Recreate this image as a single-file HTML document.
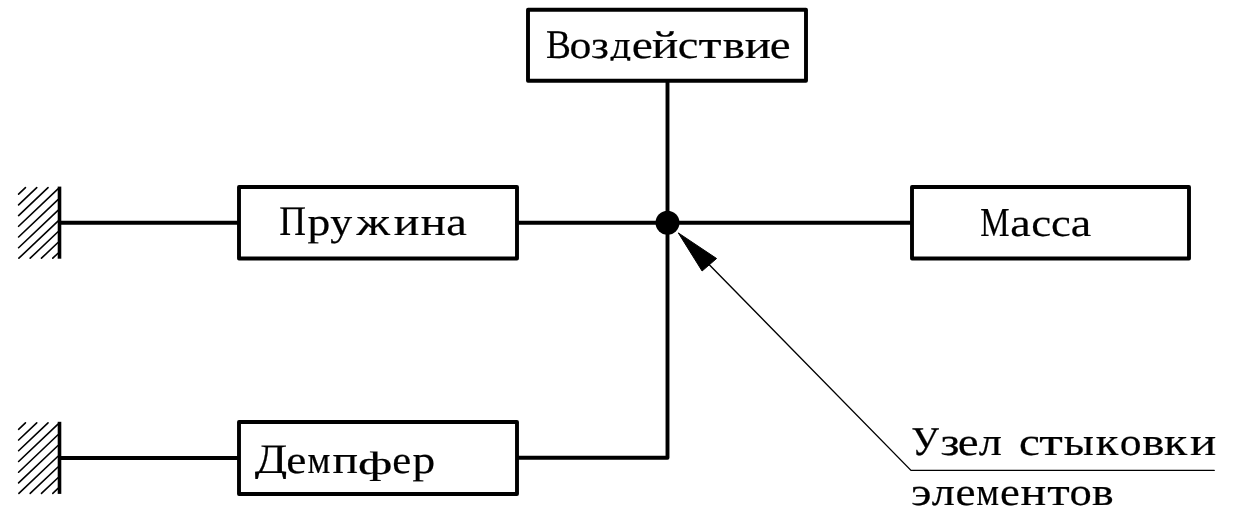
<!DOCTYPE html>
<html><head><meta charset="utf-8">
<style>
html,body{margin:0;padding:0;background:#fff;width:1252px;height:519px;overflow:hidden}
svg{display:block;will-change:transform}
text{font-family:"Liberation Serif",serif;fill:#000;text-rendering:geometricPrecision;stroke:#000;stroke-width:0.2px}
</style></head>
<body>
<svg width="1252" height="519" viewBox="0 0 1252 519">
<defs>
<g id="hatch">
<path d="M18.60,194.10 L25.44,187.60 M18.60,204.83 L36.74,187.60 M18.60,215.56 L48.03,187.60 M18.60,226.29 L58.00,188.86 M18.60,237.02 L58.00,199.59 M18.60,247.75 L58.00,210.32 M18.89,258.20 L58.00,221.05 M30.19,258.20 L58.00,231.78 M41.48,258.20 L58.00,242.51 M52.78,258.20 L58.00,253.24" stroke="#000" stroke-width="1.6" stroke-linecap="round" fill="none"/>
<line x1="59.5" y1="186.6" x2="59.5" y2="258.7" stroke="#000" stroke-width="3.6"/>
</g>
</defs>
<use href="#hatch"/>
<use href="#hatch" transform="translate(0,235.2)"/>
<g stroke="#000" stroke-width="3.9" fill="none" stroke-linejoin="round">
<rect x="528" y="9.8" width="278" height="71"/>
<rect x="239" y="187" width="278" height="71.5"/>
<rect x="912" y="187" width="277" height="71.5"/>
<rect x="239" y="422" width="278" height="72"/>
<path d="M59.5,222.8 H239 M517,222.8 H912 M667.5,80.8 V457.8 H517 M59.5,458 H239"/>
</g>
<circle cx="667.5" cy="222.8" r="12" fill="#000"/>
<path d="M678.3,232.9 L716.6,258.5 L702.1,271 Z" fill="#000" stroke="#000" stroke-width="1" stroke-linejoin="round"/>
<path d="M709.3,264.7 L911,470.4 H1214.2" stroke="#000" stroke-width="1.4" fill="none" stroke-linecap="round"/>
<defs><clipPath id="c1"><rect x="605.6" y="-2.1" width="29.7" height="62.9"/></clipPath><clipPath id="c2"><rect x="250.0" y="412.8" width="41.0" height="66.1"/></clipPath></defs>
<text transform="matrix(0.8995 0 0 0.9826 546.02 57.90)" font-size="41.5">В</text>
<text transform="matrix(1.1253 0 0 1.0000 569.53 57.90)" font-size="39.0">о</text>
<text transform="matrix(1.1627 0 0 1.0000 591.12 57.90)" font-size="39.0">з</text>
<g clip-path="url(#c1)"><text transform="matrix(1.0387 0 0 1.0000 610.60 57.90)" font-size="39.0">д</text></g>
<text transform="matrix(1.2193 0 0 1.0000 631.64 57.90)" font-size="39.0">е</text>
<text transform="matrix(1.2570 0 0 1.0000 652.11 57.90)" font-size="39.0">й</text>
<text transform="matrix(1.1897 0 0 1.0000 677.73 57.90)" font-size="39.0">с</text>
<text transform="matrix(1.3521 0 0 1.0000 698.43 57.90)" font-size="39.0">т</text>
<text transform="matrix(1.2029 0 0 1.0000 722.65 57.90)" font-size="39.0">в</text>
<text transform="matrix(1.2622 0 0 1.0000 744.71 57.90)" font-size="39.0">и</text>
<text transform="matrix(1.2054 0 0 1.0000 769.76 57.90)" font-size="39.0">е</text>
<text transform="matrix(0.8926 0 0 1.0157 279.23 234.90)" font-size="41.5">П</text>
<text transform="matrix(1.1702 0 0 1.0000 307.46 234.90)" font-size="39.0">р</text>
<text transform="matrix(1.1234 0 0 1.0000 330.37 234.90)" font-size="39.0">у</text>
<text transform="matrix(1.2395 0 0 1.0000 356.59 234.90)" font-size="39.0">ж</text>
<text transform="matrix(1.2258 0 0 1.0000 393.74 234.90)" font-size="39.0">и</text>
<text transform="matrix(1.2050 0 0 1.0000 420.65 234.90)" font-size="39.0">н</text>
<text transform="matrix(1.1879 0 0 1.0000 446.37 234.90)" font-size="39.0">а</text>
<text transform="matrix(0.7945 0 0 0.9918 980.25 236.00)" font-size="41.5">М</text>
<text transform="matrix(1.1814 0 0 1.0000 1010.28 236.00)" font-size="39.0">а</text>
<text transform="matrix(1.1487 0 0 1.0000 1031.29 236.00)" font-size="39.0">с</text>
<text transform="matrix(1.1419 0 0 1.0000 1051.00 236.00)" font-size="39.0">с</text>
<text transform="matrix(1.1814 0 0 1.0000 1070.68 236.00)" font-size="39.0">а</text>
<g clip-path="url(#c2)"><text transform="matrix(1.1477 0 0 1.0120 254.67 472.80)" font-size="41.5">Д</text></g>
<text transform="matrix(1.1639 0 0 1.0000 286.33 472.90)" font-size="39.0">е</text>
<text transform="matrix(0.9270 0 0 1.0000 307.47 472.90)" font-size="39.0">м</text>
<text transform="matrix(1.2258 0 0 1.0000 332.44 472.90)" font-size="39.0">п</text>
<text transform="matrix(1.3786 0 0 0.8314 357.73 473.90)" font-size="39.0">ф</text>
<text transform="matrix(1.0946 0 0 1.0000 392.33 472.90)" font-size="39.0">е</text>
<text transform="matrix(1.1644 0 0 1.0000 412.47 472.90)" font-size="39.0">р</text>
<text transform="matrix(0.9413 0 0 0.9826 911.16 454.90)" font-size="41.5">У</text>
<text transform="matrix(1.2320 0 0 1.0000 940.54 454.90)" font-size="39.0">з</text>
<text transform="matrix(1.2054 0 0 1.0000 957.76 454.90)" font-size="39.0">е</text>
<text transform="matrix(1.1890 0 0 1.0000 978.75 454.90)" font-size="39.0">л</text>
<text transform="matrix(1.2034 0 0 1.0000 1018.91 454.90)" font-size="39.0">с</text>
<text transform="matrix(1.3836 0 0 1.0000 1039.21 454.90)" font-size="39.0">т</text>
<text transform="matrix(1.1471 0 0 1.0000 1063.79 454.90)" font-size="39.0">ы</text>
<text transform="matrix(1.1925 0 0 1.0000 1095.86 454.90)" font-size="39.0">к</text>
<text transform="matrix(1.1192 0 0 1.0000 1119.74 454.90)" font-size="39.0">о</text>
<text transform="matrix(1.2029 0 0 1.0000 1142.15 454.90)" font-size="39.0">в</text>
<text transform="matrix(1.2253 0 0 1.0000 1164.04 454.90)" font-size="39.0">к</text>
<text transform="matrix(1.2570 0 0 1.0000 1189.91 454.90)" font-size="39.0">и</text>
<text transform="matrix(1.2267 0 0 1.0000 910.89 504.90)" font-size="39.0">э</text>
<text transform="matrix(1.1890 0 0 1.0000 931.75 504.90)" font-size="39.0">л</text>
<text transform="matrix(1.1569 0 0 1.0000 955.54 504.90)" font-size="39.0">е</text>
<text transform="matrix(0.9226 0 0 1.0000 976.17 504.90)" font-size="39.0">м</text>
<text transform="matrix(1.1431 0 0 1.0000 999.96 504.90)" font-size="39.0">е</text>
<text transform="matrix(1.2310 0 0 1.0000 1020.43 504.90)" font-size="39.0">н</text>
<text transform="matrix(1.3207 0 0 1.0000 1047.35 504.90)" font-size="39.0">т</text>
<text transform="matrix(1.1434 0 0 1.0000 1069.60 504.90)" font-size="39.0">о</text>
<text transform="matrix(1.1785 0 0 1.0000 1092.07 504.90)" font-size="39.0">в</text>
</svg>
</body></html>
